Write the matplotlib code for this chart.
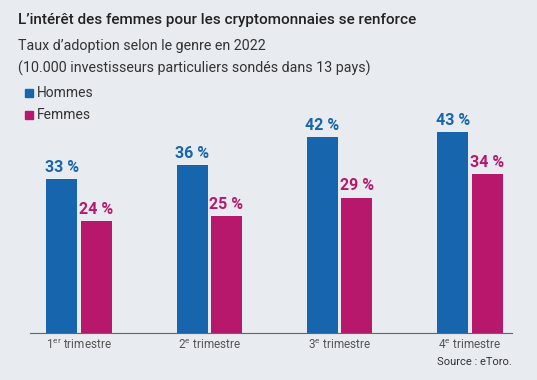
import matplotlib
matplotlib.use("Agg")
import matplotlib.pyplot as plt
import numpy as np

quarters = ["1", "2", "3", "4"]
suffixes = ["er", "e", "e", "e"]
hommes = [33, 36, 42, 43]
femmes = [24, 25, 29, 34]

BG = "#e8ecf1"
BLUE = "#1765ad"
PINK = "#b8186b"
FONT = ["Roboto", "DejaVu Sans"]

plt.rcParams.update({"font.family": FONT, "mathtext.fontset": "custom",
                     "mathtext.rm": FONT[0], "mathtext.it": FONT[0]})

fig = plt.figure(figsize=(5.37, 3.8), dpi=100, facecolor=BG)
ax = fig.add_axes([30 / 537, 47 / 380, 482 / 537, 233.5 / 380], facecolor=BG)

x = np.arange(len(quarters))
w, off = 0.238, 0.132
ax.bar(x - off, hommes, w, color=BLUE)
ax.bar(x + off, femmes, w, color=PINK)
for xi, v in zip(x, hommes):
    ax.text(xi - off, v + 0.9, f"{v} %", ha="center", va="bottom",
            fontsize=11.5, fontweight="bold", color=BLUE)
for xi, v in zip(x, femmes):
    ax.text(xi + off, v + 0.9, f"{v} %", ha="center", va="bottom",
            fontsize=11.5, fontweight="bold", color=PINK)

ax.set_xlim(-0.376, 3.323)
ax.set_ylim(0, 50)
ax.set_yticks([])
ax.set_xticks(x)
ax.set_xticklabels([f"{q}$^{{\\mathrm{{{s}}}}}$ trimestre" for q, s in zip(quarters, suffixes)],
                   fontsize=8.5, color="#555555")
ax.tick_params(axis="x", length=0, pad=4)
for s in ["top", "right", "left"]:
    ax.spines[s].set_visible(False)
ax.spines["bottom"].set_color("#666666")
ax.spines["bottom"].set_linewidth(0.8)

fig.text(18 / 537, 1 - 20 / 380, "L\u2019intérêt des femmes pour les cryptomonnaies se renforce",
         fontsize=11, fontweight="medium", color="#222222", va="center")
fig.text(18 / 537, 1 - 46 / 380, "Taux d\u2019adoption selon le genre en 2022",
         fontsize=10.3, color="#333333", va="center")
fig.text(18 / 537, 1 - 68 / 380, "(10.000 investisseurs particuliers sondés dans 13 pays)",
         fontsize=10.3, color="#333333", va="center")

for y, col, lab in [(93, BLUE, "Hommes"), (115, PINK, "Femmes")]:
    fig.patches.append(plt.Rectangle((25 / 537, 1 - (y + 4) / 380), 8 / 537, 8 / 380,
                                     transform=fig.transFigure, color=col))
    fig.text(37 / 537, 1 - y / 380, lab, fontsize=10, color="#333333", va="center")

fig.text(512 / 537, 1 - 362 / 380, "Source : eToro.", fontsize=8, color="#333333",
         ha="right", va="center")

fig.savefig("out.png", dpi=100, facecolor=BG)
